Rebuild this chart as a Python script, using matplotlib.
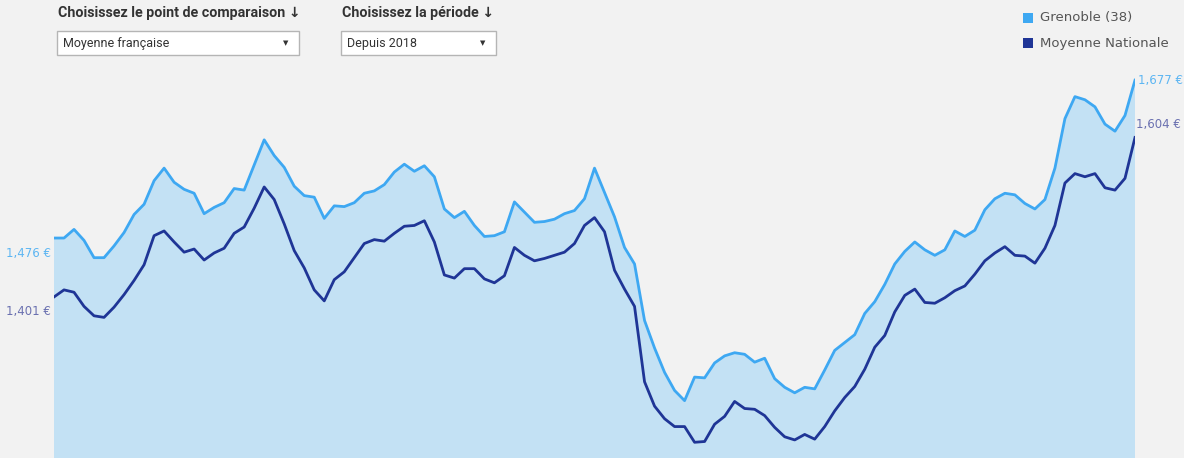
import numpy as np
import matplotlib
matplotlib.use("Agg")
import matplotlib.pyplot as plt
from matplotlib.patches import Rectangle

# data (€), same dates for both series, since 2018
grenoble = [1476, 1476, 1487, 1473, 1451, 1451, 1466, 1483, 1506, 1519,
            1549, 1565, 1547, 1538, 1533, 1507, 1515, 1521, 1539, 1537,
            1569, 1601, 1581, 1566, 1542, 1530, 1528, 1501, 1517, 1516,
            1521, 1533, 1536, 1544, 1560, 1570, 1561, 1568, 1554, 1513,
            1502, 1510, 1492, 1478, 1479, 1484, 1522, 1509, 1496, 1497,
            1500, 1507, 1511, 1526, 1565, 1534, 1503, 1464, 1443, 1371,
            1336, 1305, 1282, 1269, 1299, 1298, 1317, 1326, 1330, 1328,
            1318, 1323, 1297, 1286, 1279, 1286, 1284, 1308, 1333, 1343,
            1353, 1380, 1395, 1417, 1443, 1459, 1471, 1461, 1454, 1461,
            1485, 1478, 1486, 1512, 1526, 1533, 1531, 1520, 1513, 1525,
            1565, 1628, 1656, 1652, 1643, 1621, 1612, 1632, 1677]
nationale = [1401, 1410, 1407, 1389, 1377, 1375, 1388, 1404, 1422, 1442,
             1479, 1485, 1471, 1458, 1462, 1448, 1457, 1463, 1482, 1490,
             1514, 1541, 1525, 1494, 1460, 1438, 1410, 1396, 1423, 1433,
             1451, 1469, 1474, 1472, 1482, 1491, 1492, 1498, 1471, 1429,
             1425, 1437, 1437, 1424, 1419, 1428, 1464, 1454, 1447, 1450,
             1454, 1458, 1469, 1492, 1502, 1484, 1435, 1411, 1389, 1293,
             1262, 1246, 1236, 1236, 1216, 1217, 1239, 1249, 1268, 1259,
             1258, 1250, 1235, 1223, 1219, 1226, 1220, 1236, 1256, 1273,
             1287, 1309, 1337, 1352, 1382, 1403, 1411, 1394, 1393, 1400,
             1409, 1415, 1430, 1447, 1457, 1465, 1454, 1453, 1444, 1463,
             1492, 1546, 1558, 1554, 1558, 1540, 1537, 1552, 1604]
series_names = ["Grenoble (38)", "Moyenne Nationale"]
filters = [("Choisissez le point de comparaison \u2193", "Moyenne fran\u00e7aise"),
           ("Choisissez la p\u00e9riode \u2193", "Depuis 2018")]

BG = "#f2f2f2"
LIGHT = "#3ea8f2"
DARK = "#1f3596"
FILL = "#c3e1f4"
W, H = 1184, 458
FONT = ["DejaVu Sans"]
HEAD_FONT = ["Roboto", "DejaVu Sans"]

x = np.arange(len(grenoble))

fig = plt.figure(figsize=(W / 100, H / 100), dpi=100, facecolor=BG)

def fx(px):
    return px / W

def fy(py):
    return 1 - py / H

ax = fig.add_axes([fx(54), 0, fx(1135) - fx(54), 1])
ax.set_facecolor("none")
ax.set_xlim(0, len(grenoble) - 1)
ax.set_ylim(1196, 1779)
ax.axis("off")

ax.fill_between(x, 0, grenoble, color=FILL, lw=0)
ax.plot(x, grenoble, color=LIGHT, lw=2.0, solid_joinstyle="round")
ax.plot(x, nationale, color=DARK, lw=2.0, solid_joinstyle="round")

def fmt(v):
    return f"{v:,} \u20ac"

ax.annotate(fmt(grenoble[0]), (x[0], grenoble[0]), xytext=(-3, -15),
            textcoords="offset pixels", ha="right", va="center",
            color="#5db6f2", fontsize=8.5, family=FONT)
ax.annotate(fmt(nationale[0]), (x[0], nationale[0]), xytext=(-3, -15),
            textcoords="offset pixels", ha="right", va="center",
            color="#6a70b0", fontsize=8.5, family=FONT)
ax.annotate(fmt(grenoble[-1]), (x[-1], grenoble[-1]), xytext=(3, 0),
            textcoords="offset pixels", ha="left", va="center",
            color="#5db6f2", fontsize=8.5, family=FONT)
ax.annotate(fmt(nationale[-1]), (x[-1], nationale[-1]), xytext=(1, 13),
            textcoords="offset pixels", ha="left", va="center",
            color="#6a70b0", fontsize=8.5, family=FONT)

# dropdown filters
boxes = [(57, 299), (341, 496)]
for (title, value), (x0, x1) in zip(filters, boxes):
    fig.text(fx(x0 + 1), fy(13), title, fontsize=10.3, fontweight="bold",
             color="#333333", va="center", ha="left", family=HEAD_FONT)
    fig.add_artist(Rectangle((fx(x0), fy(55)), fx(x1 - x0), fy(31) - fy(55),
                             transform=fig.transFigure, facecolor="white",
                             edgecolor="#b5b5b5", lw=1))
    fig.text(fx(x0 + 6), fy(43), value, fontsize=9, color="#333333",
             va="center", ha="left", family=HEAD_FONT)
    fig.text(fx(x1 - 13), fy(43), "\u25bc", fontsize=5, color="#333333",
             va="center", ha="center", family=["DejaVu Sans"])

# legend
for i, (name, col) in enumerate(zip(series_names, [LIGHT, DARK])):
    ycen = 18 + 25 * i
    fig.add_artist(Rectangle((fx(1023), fy(ycen + 5)), fx(10), fy(ycen - 5) - fy(ycen + 5),
                             transform=fig.transFigure, facecolor=col, lw=0))
    fig.text(fx(1040), fy(ycen), name, fontsize=9.5, color="#555555",
             va="center", ha="left", family=FONT)

fig.savefig("out.png", dpi=100, facecolor=BG)
